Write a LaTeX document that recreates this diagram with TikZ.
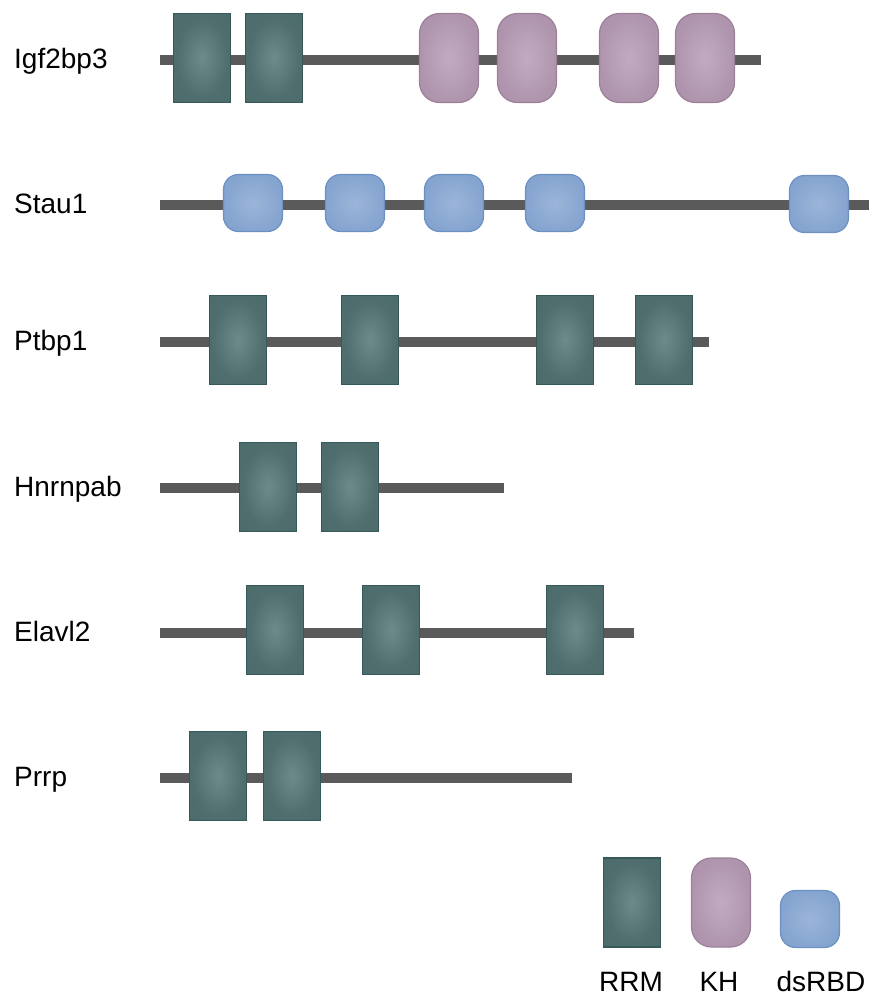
\documentclass[tikz,border=0pt]{standalone}
\usepackage{fontspec}
\setmainfont{Liberation Sans}

% domain colours: centre, middle, edge
\definecolor{rrmC}{HTML}{6E8B8C}
\definecolor{rrmM}{HTML}{4F6E6D}
\definecolor{rrmE}{HTML}{36595A}
\definecolor{khC}{HTML}{C2ABC1}
\definecolor{khM}{HTML}{AE95AD}
\definecolor{khE}{HTML}{9C8098}
\definecolor{dsC}{HTML}{9BB5D9}
\definecolor{dsM}{HTML}{85A4CF}
\definecolor{dsE}{HTML}{6C92C3}
\definecolor{backboneC}{HTML}{5A5A5A}

\pgfdeclareradialshading{rrmshade}{\pgfpoint{0bp}{0bp}}{color(0bp)=(rrmC); color(22bp)=(rrmM); color(44bp)=(rrmM!80!rrmE); color(50bp)=(rrmE)}
\pgfdeclareradialshading{khshade}{\pgfpoint{0bp}{0bp}}{color(0bp)=(khC); color(25bp)=(khM); color(44bp)=(khM!80!khE); color(50bp)=(khE)}
\pgfdeclareradialshading{dsshade}{\pgfpoint{0bp}{0bp}}{color(0bp)=(dsC); color(25bp)=(dsM); color(44bp)=(dsM!80!dsE); color(50bp)=(dsE)}

\tikzset{
  backbone/.style={draw=backboneC, line width=10pt, line cap=butt},
  rrm/.style={rectangle, inner sep=0pt, minimum width=57pt, minimum height=89pt,
    shading=rrmshade, draw=rrmE, line width=1.2pt},
  kh/.style={rectangle, rounded corners=20pt, inner sep=0pt, minimum width=59pt,
    minimum height=89pt, shading=khshade, draw=khE, line width=1.2pt},
  dsrbd/.style={rectangle, rounded corners=15pt, inner sep=0pt, minimum width=59pt,
    minimum height=57pt, shading=dsshade, draw=dsE, line width=1.2pt},
  lbl/.style={inner sep=0pt, font=\fontsize{28}{34}\selectfont, text=black},
}

\begin{document}
\begin{tikzpicture}[x=1pt, y=-1pt]
\useasboundingbox (0,0) rectangle (869,997);

% ---- Igf2bp3
\node[lbl, anchor=base west] (n1) at (14,68) {Igf2bp3};
\coordinate (r1s) at (160,60);
\coordinate (r1e) at (761,60);
\draw[backbone] (r1s) -- (r1e);
\node[rrm] (r1a) at (202,58) {};
\node[rrm] (r1b) at (274,58) {};
\node[kh] (r1c) at (449,58) {};
\node[kh] (r1d) at (527,58) {};
\node[kh] (r1e2) at (629,58) {};
\node[kh] (r1f) at (705,58) {};

% ---- Stau1
\node[lbl, anchor=base west] (n2) at (14,213) {Stau1};
\coordinate (r2s) at (160,205);
\coordinate (r2e) at (869,205);
\draw[backbone] (r2s) -- (r2e);
\node[dsrbd] (r2a) at (253,203) {};
\node[dsrbd] (r2b) at (355,203) {};
\node[dsrbd] (r2c) at (454,203) {};
\node[dsrbd] (r2d) at (555,203) {};
\node[dsrbd] (r2f) at (819,204) {};

% ---- Ptbp1
\node[lbl, anchor=base west] (n3) at (14,350) {Ptbp1};
\coordinate (r3s) at (160,342);
\coordinate (r3e) at (709,342);
\draw[backbone] (r3s) -- (r3e);
\node[rrm] (r3a) at (238,340) {};
\node[rrm] (r3b) at (370,340) {};
\node[rrm] (r3c) at (565,340) {};
\node[rrm] (r3d) at (664,340) {};

% ---- Hnrnpab
\node[lbl, anchor=base west] (n4) at (14,496) {Hnrnpab};
\coordinate (r4s) at (160,488);
\coordinate (r4e) at (504,488);
\draw[backbone] (r4s) -- (r4e);
\node[rrm] (r4a) at (268,487) {};
\node[rrm] (r4b) at (350,487) {};

% ---- Elavl2
\node[lbl, anchor=base west] (n5) at (14,641) {Elavl2};
\coordinate (r5s) at (160,633);
\coordinate (r5e) at (634,633);
\draw[backbone] (r5s) -- (r5e);
\node[rrm] (r5a) at (275,630) {};
\node[rrm] (r5b) at (391,630) {};
\node[rrm] (r5c) at (575,630) {};

% ---- Prrp
\node[lbl, anchor=base west] (n6) at (14,786) {Prrp};
\coordinate (r6s) at (160,778);
\coordinate (r6e) at (572,778);
\draw[backbone] (r6s) -- (r6e);
\node[rrm] (r6a) at (218,776) {};
\node[rrm] (r6b) at (292,776) {};

% ---- legend
\node[rrm] (lgrrm) at (632,902.5) {};
\node[kh] (lgkh) at (721,902.5) {};
\node[dsrbd] (lgds) at (810,919) {};
\node[lbl, anchor=base] (lt1) at (631,991) {RRM};
\node[lbl, anchor=base] (lt2) at (719,991) {KH};
\node[lbl, anchor=base] (lt3) at (821,991) {dsRBD};
\end{tikzpicture}
\end{document}
